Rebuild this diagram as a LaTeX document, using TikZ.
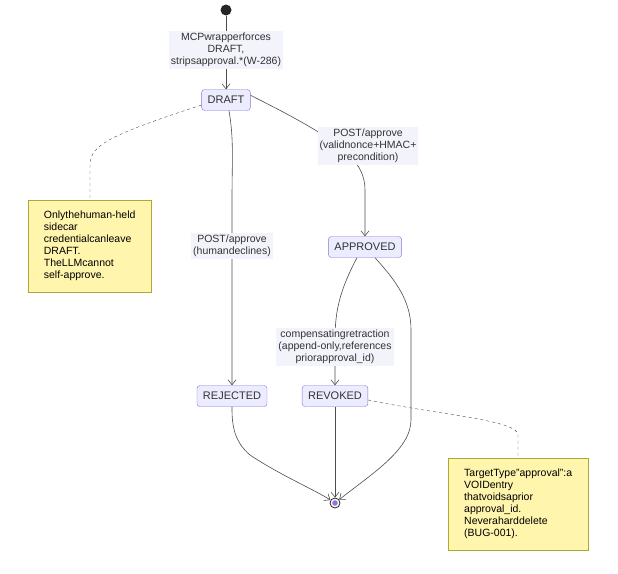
\documentclass[tikz,border=0pt]{standalone}
\usepackage{fontspec}
\setmainfont{Liberation Sans}
\usetikzlibrary{arrows.meta}
\definecolor{stfill}{HTML}{ECECFF}
\definecolor{stdraw}{HTML}{9370DB}
\definecolor{lblfill}{HTML}{F3F3FC}
\definecolor{notefill}{HTML}{FFF5AD}
\definecolor{notedraw}{HTML}{AAAA33}
\tikzset{
  state/.style={draw=stdraw, fill=stfill, rounded corners=3pt, font=\fontsize{11}{13}\selectfont, text=black!80, minimum height=21pt, inner xsep=6pt},
  lbl/.style={fill=lblfill, align=center, font=\fontsize{10.5}{12}\selectfont, text=black!80, inner sep=2pt},
  note/.style={draw=notedraw, fill=notefill, align=left, font=\fontsize{10.5}{12}\selectfont, inner xsep=10pt, inner ysep=8pt, anchor=north west},
  trans/.style={draw=black!70, semithick, -{Straight Barb[length=5pt,width=8pt]}},
  link/.style={draw=black!70, thin, dashed}
}
\begin{document}
\begin{tikzpicture}[x=1pt,y=-1pt]
    \useasboundingbox (0,0) rectangle (618,573);

    \node[circle, fill=black!85, minimum size=11pt, inner sep=0pt] (start) at (226,10) {};
    \node[state] (draft) at (226,100) {DRAFT};
    \node[state] (approved) at (365,247) {APPROVED};
    \node[state] (rejected) at (232,396) {REJECTED};
    \node[state] (revoked) at (335,396) {REVOKED};
    \node[circle, draw=black!85, thick, minimum size=10pt, inner sep=0pt] (end) at (335,503) {};
    \fill[stdraw] (end) circle (2.8);

    \node[note, minimum width=123pt, minimum height=92pt] (note1) at (28,200) {Onlythehuman-held\\sidecar\\credentialcanleave\\DRAFT.\\TheLLMcannot\\self-approve.};
    \node[note, minimum width=140pt, minimum height=92pt] (note2) at (448,458) {TargetType"approval":a\\VOIDentry\\thatvoidsaprior\\approval\_id.\\Neveraharddelete\\(BUG-001).};

    % transitions
    \draw[trans] (start) -- (draft);
    \node[lbl] (l1) at (226,50) {MCPwrapperforces\\DRAFT,\\stripsapproval.*(W-286)};
    \draw[trans] (draft.north east) ++(0,6) .. controls (340,140) and (365,160) .. (365,190) -- (approved);
    \node[lbl] (l2) at (368,146) {POST/approve\\(validnonce+HMAC+\\precondition)};
    \draw[trans] (draft.south) ++(3,0) .. controls (234,140) and (232,160) .. (232,200) -- (rejected);
    \node[lbl] (l3) at (232,246) {POST/approve\\(humandeclines)};
    \draw[trans] (approved.south) ++(-8,0) .. controls (340,290) and (335,310) .. (335,340) -- (revoked);
    \node[lbl] (l4) at (335,347) {compensatingretraction\\(append-only,references\\priorapproval\_id)};
    \draw[trans] (revoked) -- (end);
    \draw[trans] (rejected.south) .. controls (232,420) and (232,440) .. (250,455) .. controls (280,475) and (315,490) .. (end);
    \draw[trans] (approved.south) ++(10,0) .. controls (395,280) and (411,300) .. (411,330) -- (411,420) .. controls (411,450) and (370,475) .. (end);

    % notes
    \draw[link] (draft.west) ++(0,5) .. controls (110,135) and (90,145) .. (90,165) -- (note1.north -| 90,0);
    \draw[link] (revoked.east) ++(0,4) .. controls (440,415) and (518,420) .. (518,435) -- (518,458);
\end{tikzpicture}
\end{document}
